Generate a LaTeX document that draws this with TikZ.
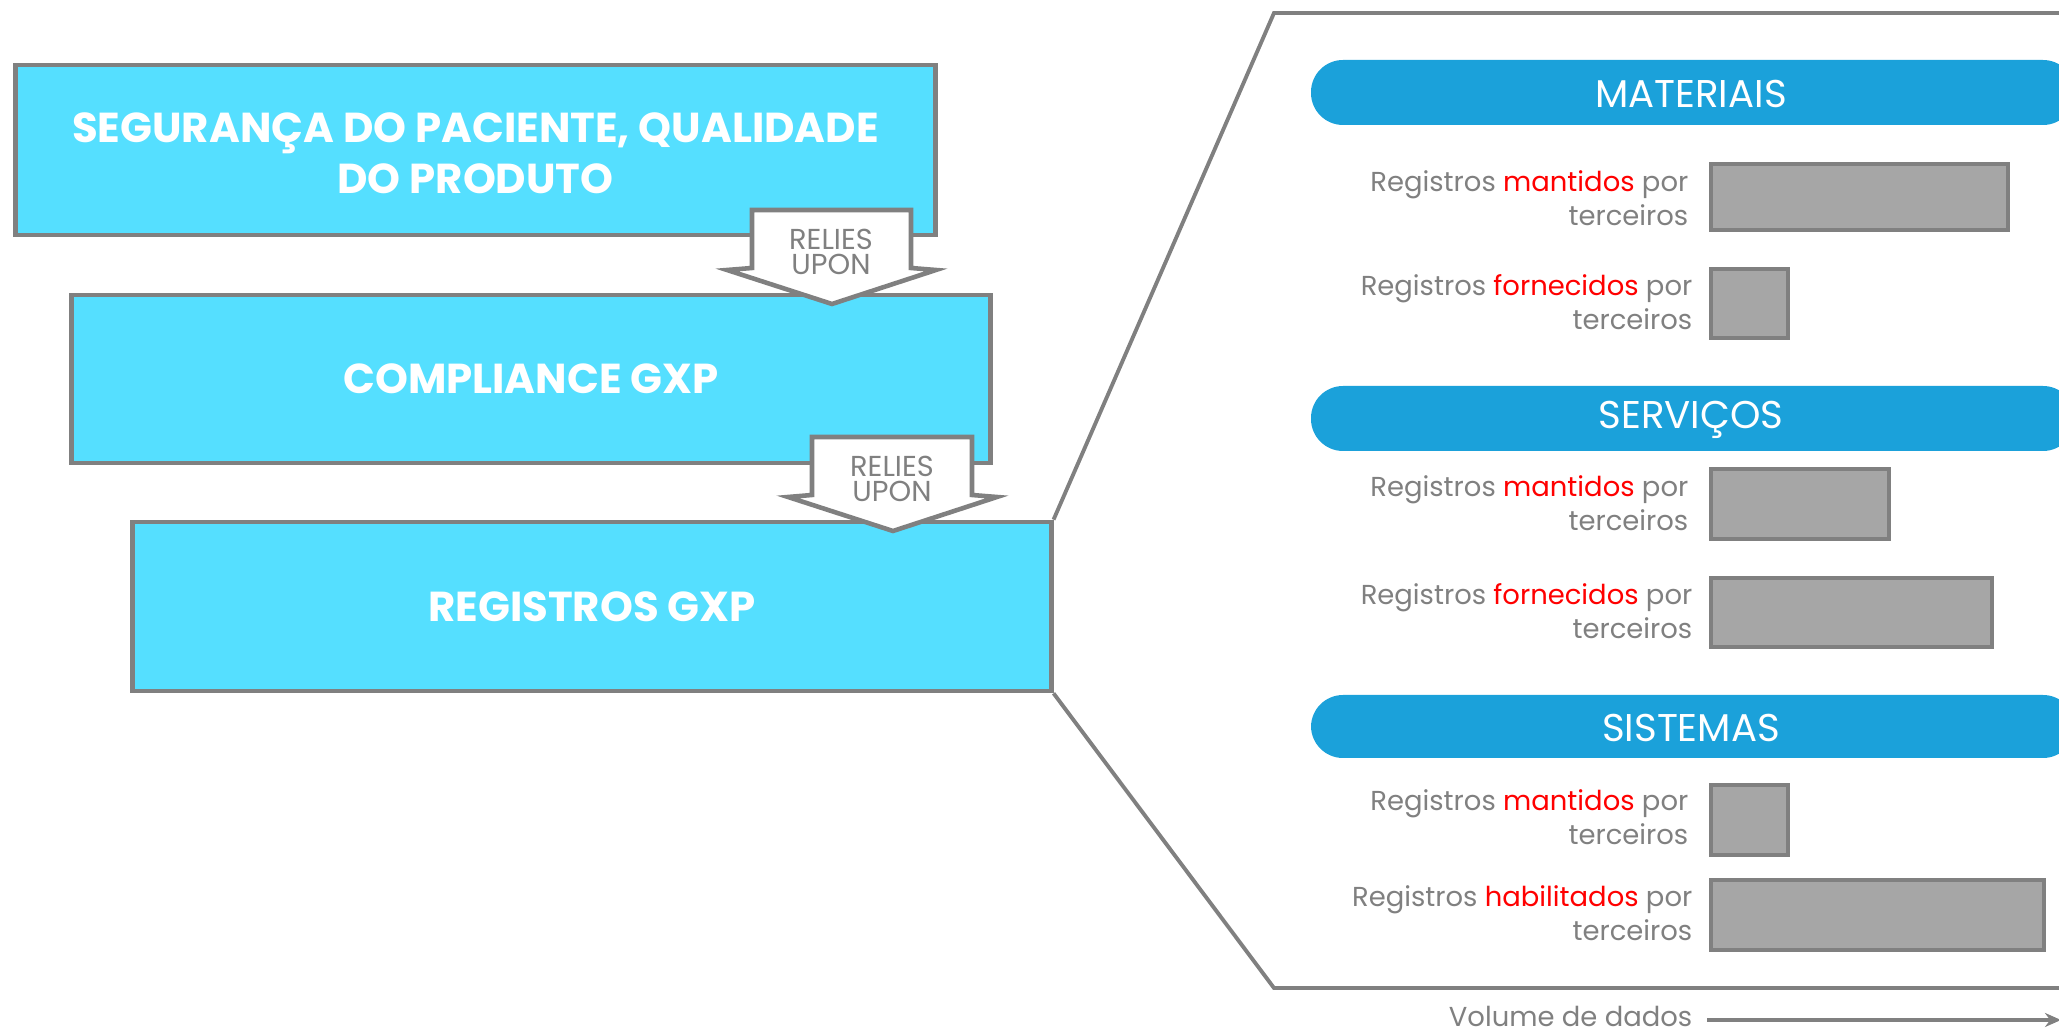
\documentclass[tikz,border=0pt]{standalone}
\usepackage{fontspec}
\setmainfont{Poppins}
\usetikzlibrary{arrows.meta}
\definecolor{boxcyan}{RGB}{85,223,255}
\definecolor{pillblue}{RGB}{27,161,218}
\definecolor{edgegray}{RGB}{128,128,128}
\definecolor{barfill}{RGB}{166,166,166}
\definecolor{txtgray}{RGB}{128,128,128}
\definecolor{hired}{RGB}{255,0,0}
\tikzset{
  bluebox/.style={draw=edgegray, fill=boxcyan, line width=1.3pt, inner sep=0pt,
    text=white, font=\bfseries\fontsize{11.9}{14.6}\selectfont, align=center},
  boxtext/.style={text=white, font=\bfseries\fontsize{11.9}{14.6}\selectfont, align=center, inner sep=0pt},
  relies/.style={draw=edgegray, fill=white, line width=1.3pt, line join=miter},
  reliestext/.style={text=txtgray, font=\fontsize{8.2}{7.2}\selectfont, align=center, inner sep=0pt},
  panelline/.style={draw=edgegray, line width=1.1pt},
  pill/.style={fill=pillblue, rounded corners=0.32cm},
  pilltext/.style={text=white, font=\fontsize{11}{13}\selectfont, inner sep=0pt},
  bar/.style={draw=edgegray, fill=barfill, line width=1.15pt},
  lbl/.style={text=txtgray, font=\fontsize{7.8}{9.7}\selectfont, align=right, anchor=east, inner sep=0pt},
}
\newcommand{\hl}[1]{\textcolor{hired}{#1}}
\begin{document}
\begin{tikzpicture}[x=0.01cm,y=-0.01cm]
\useasboundingbox (0,0) rectangle (2059,1034);
% left boxes
\node[bluebox, minimum width=9.19cm, minimum height=1.70cm] (b1) at (475.5,150) {};
\node[boxtext] (b1t) at (475.5,153) {SEGURANÇA DO PACIENTE, QUALIDADE\\DO PRODUTO};
\node[bluebox, minimum width=9.18cm, minimum height=1.68cm] (b2) at (531,379) {COMPLIANCE GXP};
\node[bluebox, minimum width=9.18cm, minimum height=1.69cm] (b3) at (592,606.5) {REGISTROS GXP};
% relies upon arrows
\draw[relies] (752,210) -- (911,210) -- (911,268) -- (936,270) -- (832,304) -- (727,270) -- (752,268) -- cycle;
\node[reliestext] (r1) at (831,252) {RELIES\\UPON};
\draw[relies] (812,437) -- (972,437) -- (972,495) -- (997,497) -- (893,531) -- (788,497) -- (812,495) -- cycle;
\node[reliestext] (r2) at (892,479) {RELIES\\UPON};
% panel outline
\coordinate (pt) at (1274,13);
\coordinate (ptr) at (2065,13);
\coordinate (pb) at (1274,988);
\coordinate (pbr) at (2065,988);
\draw[panelline, line join=miter] (b3.north east) -- (pt) -- (ptr);
\draw[panelline, line join=miter] (b3.south east) -- (pb) -- (pbr);
% pills
\fill[pill] (1311,60) rectangle (2075,125);
\node[pilltext] (p1) at (1691,94) {MATERIAIS};
\fill[pill] (1311,386) rectangle (2075,451);
\node[pilltext] (p2) at (1691,420) {SERVIÇOS};
\fill[pill] (1311,695) rectangle (2075,758);
\node[pilltext] (p3) at (1691,728) {SISTEMAS};
% bars
\draw[bar] (1711,164) rectangle (2008,230);
\node[lbl] (l1) at (1689,198) {Registros \hl{mantidos} por\\terceiros};
\draw[bar] (1711,269) rectangle (1788,338);
\node[lbl] (l2) at (1693,302) {Registros \hl{fornecidos} por\\terceiros};
\draw[bar] (1711,469) rectangle (1889,539);
\node[lbl] (l3) at (1689,503) {Registros \hl{mantidos} por\\terceiros};
\draw[bar] (1711,578) rectangle (1992,647);
\node[lbl] (l4) at (1693,611) {Registros \hl{fornecidos} por\\terceiros};
\draw[bar] (1711,785) rectangle (1788,855);
\node[lbl] (l5) at (1689,817) {Registros \hl{mantidos} por\\terceiros};
\draw[bar] (1711,880) rectangle (2044,950);
\node[lbl] (l6) at (1693,913) {Registros \hl{habilitados} por\\terceiros};
% volume axis
\node[lbl] (vol) at (1693,1016) {Volume de dados};
\coordinate (vend) at (2061,1020);
\draw[draw=edgegray, line width=1.4pt, -{Stealth[length=0.16cm,width=0.14cm]}] (vol.east) ++(14,4) -- (vend);
\end{tikzpicture}
\end{document}
